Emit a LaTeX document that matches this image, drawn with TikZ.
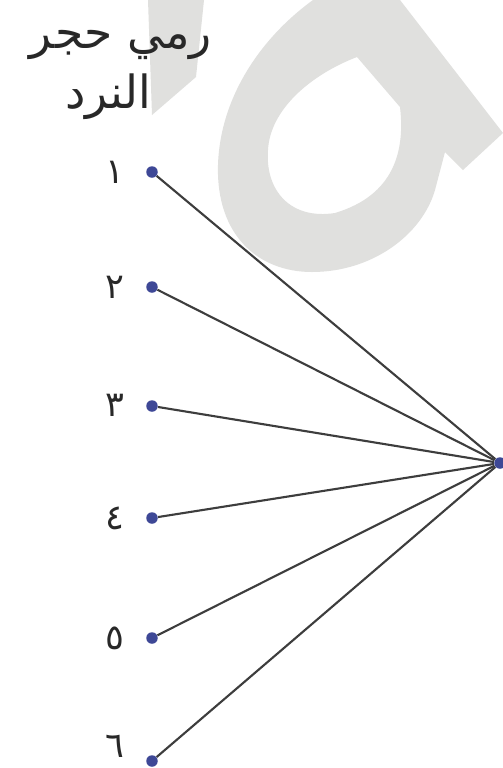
\documentclass[tikz,border=0pt]{standalone}
\usepackage{fontspec}
\TeXXeTstate=1
\newfontfamily\arabicfont[Script=Arabic]{DejaVu Sans}
\definecolor{wm}{RGB}{224,224,222}
\definecolor{dotblue}{RGB}{62,72,150}
\definecolor{ink}{RGB}{40,40,40}
\tikzset{
  pt/.style={circle, fill=dotblue, inner sep=0pt, minimum size=0.23cm},
  num/.style={text=ink, inner sep=0pt, anchor=base, text depth=0pt, font=\arabicfont\fontsize{20}{24}\selectfont},
  ttl/.style={text=ink, inner sep=0pt, font=\arabicfont\fontsize{26}{30}\selectfont},
  conn/.style={draw=ink!90, line width=1.2pt}
}
\begin{document}
\begin{tikzpicture}[x=0.02cm,y=-0.02cm]
\useasboundingbox (0,0) rectangle (503,768);
\fill[white] (0,0) rectangle (503,768);
% watermark
\fill[wm, even odd rule]
  (313,0) .. controls (258,40) and (220,100) .. (218,165)
  .. controls (216,235) and (258,272) .. (312,272)
  .. controls (372,272) and (422,235) .. (435,190)
  -- (445,152) -- (463,170) -- (503,133) -- (400,0) -- cycle
  (357,57) -- (400,107) .. controls (405,150) and (395,195) .. (335,213)
  .. controls (290,220) and (265,190) .. (268,150)
  .. controls (270,110) and (310,75) .. (357,57) -- cycle;
\fill[wm] (148,0) -- (204,0) -- (196,77) -- (152,115) -- cycle;
% title
\node[ttl] (t1) at (121,45) {\beginR رمي حجر\endR};
\node[ttl] (t2) at (108,97) {\beginR النرد\endR};
% points
\node[pt] (p1) at (152,172) {};
\node[pt] (p2) at (152,287) {};
\node[pt] (p3) at (152,406) {};
\node[pt] (p4) at (152,518) {};
\node[pt] (p5) at (152,638) {};
\node[pt] (p6) at (152,761) {};
\node[pt] (h) at (500,463) {};
% labels
\node[num] (n1) at (115,183) {١};
\node[num] (n2) at (115,298) {٢};
\node[num] (n3) at (115,416) {٣};
\node[num] (n4) at (115,529) {٤};
\node[num] (n5) at (115,649) {٥};
\node[num] (n6) at (115,757) {٦};
% connectors
\foreach \i in {1,...,6} { \draw[conn] (p\i) -- (h); }
\end{tikzpicture}
\end{document}
